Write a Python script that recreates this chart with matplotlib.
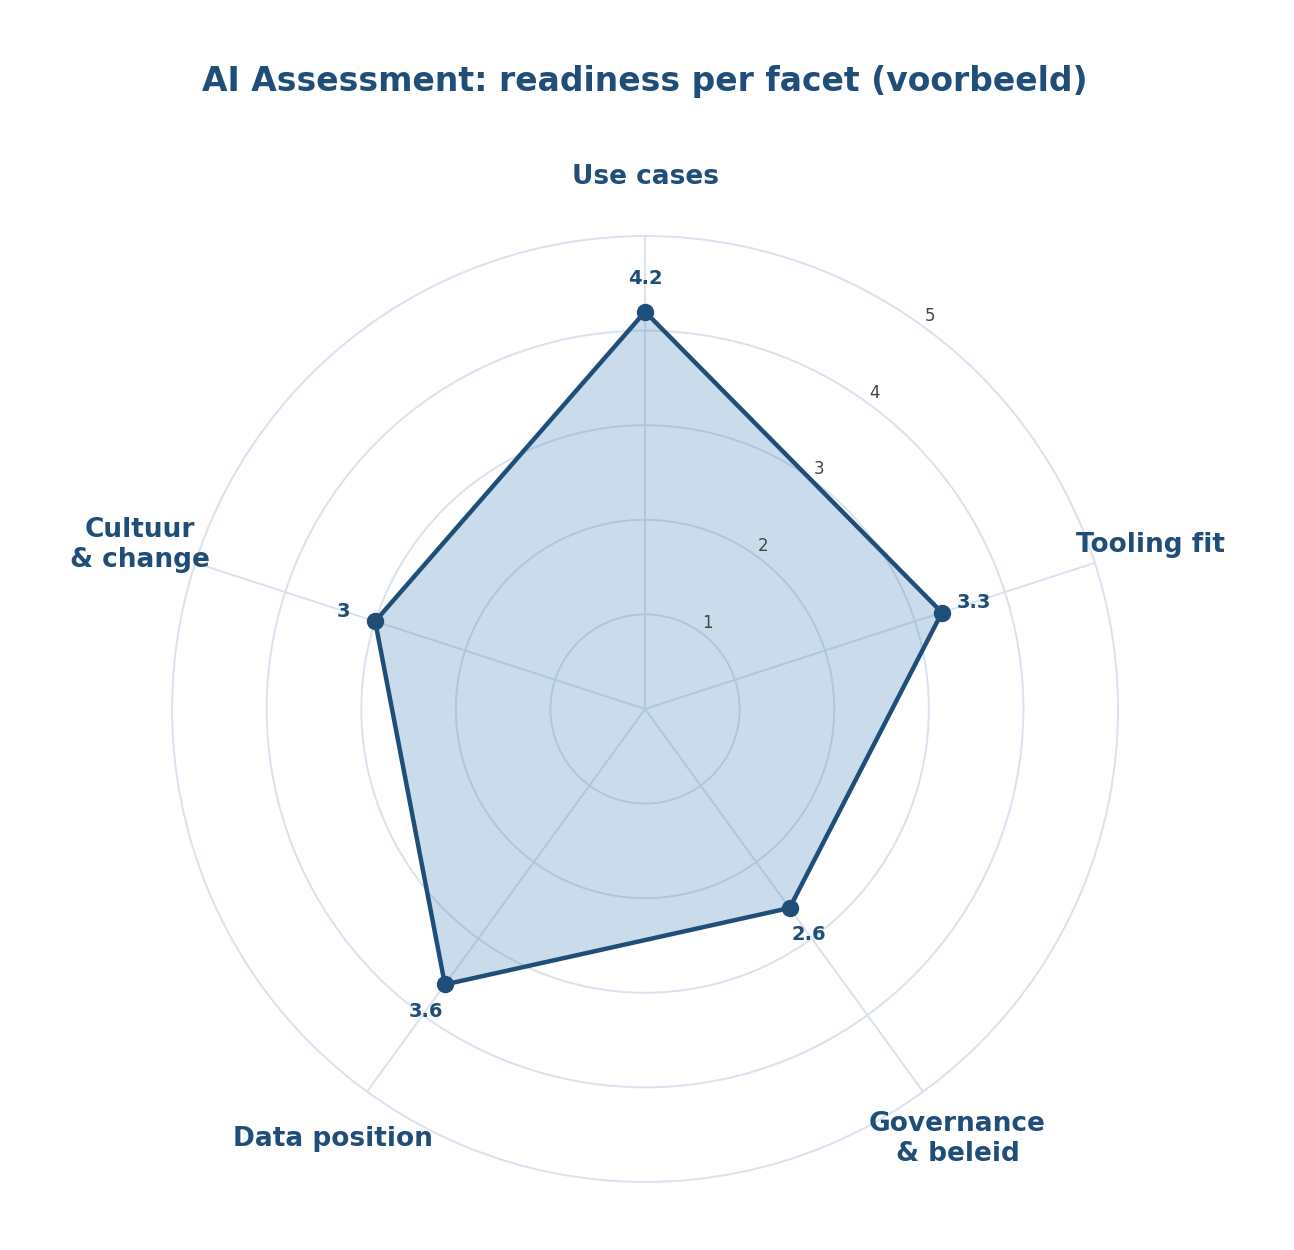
import numpy as np
import matplotlib
matplotlib.use("Agg")
import matplotlib.pyplot as plt

plt.rcParams["font.family"] = ["DejaVu Sans"]

categories = ["Use cases", "Tooling fit", "Governance\n& beleid", "Data position", "Cultuur\n& change"]
values = [4.2, 3.3, 2.6, 3.6, 3.0]
value_labels = ["4.2", "3.3", "2.6", "3.6", "3"]
r_ticks = [1, 2, 3, 4, 5]
title = "AI Assessment: readiness per facet (voorbeeld)"

DARK = "#1f4e79"
GRID = "#d9e2ee"

fig = plt.figure(figsize=(12.94, 12.5), dpi=100)
ax = fig.add_axes([0.133, 0.0544, 0.731, 0.7568], projection="polar")
ax.set_theta_offset(np.pi / 2)
ax.set_theta_direction(-1)

n = len(categories)
angles = np.arange(n) * 2 * np.pi / n
theta_closed = np.concatenate([angles, angles[:1]])
vals_closed = values + values[:1]

ax.set_ylim(0, 5)
ax.set_yticks(r_ticks[:-1])
ax.set_yticklabels([])
ax.set_xticks(angles)
ax.set_xticklabels([])
ax.grid(True, color=GRID, linewidth=1.4)
ax.spines["polar"].set_color(GRID)
ax.spines["polar"].set_linewidth(1.4)

ax.fill(theta_closed, vals_closed, color="#2e75b6", alpha=0.25, zorder=3, linewidth=0)
ax.plot(theta_closed, vals_closed, color=DARK, linewidth=3.2, zorder=4)
ax.plot(angles, values, "o", color=DARK, markersize=11.5, zorder=5)

for a, v, lab in zip(angles, values, value_labels):
    ax.text(a, v + 0.35, lab, ha="center", va="center", fontsize=14,
            fontweight="bold", color=DARK, zorder=6)

rl_angle = np.deg2rad(36)
for t in r_ticks:
    ax.text(rl_angle, t + 0.13, str(t), ha="center", va="center", fontsize=12,
            color="#444444", zorder=6)

for a, c in zip(angles, categories):
    ax.text(a, 5.62, c, ha="center", va="center", fontsize=19,
            fontweight="bold", color=DARK, linespacing=1.2, clip_on=False)

fig.text(0.498, 1 - 81 / 1250, title, ha="center", va="center", fontsize=23.8,
         fontweight="bold", color=DARK)

fig.savefig("out.png", dpi=100, facecolor="white")
